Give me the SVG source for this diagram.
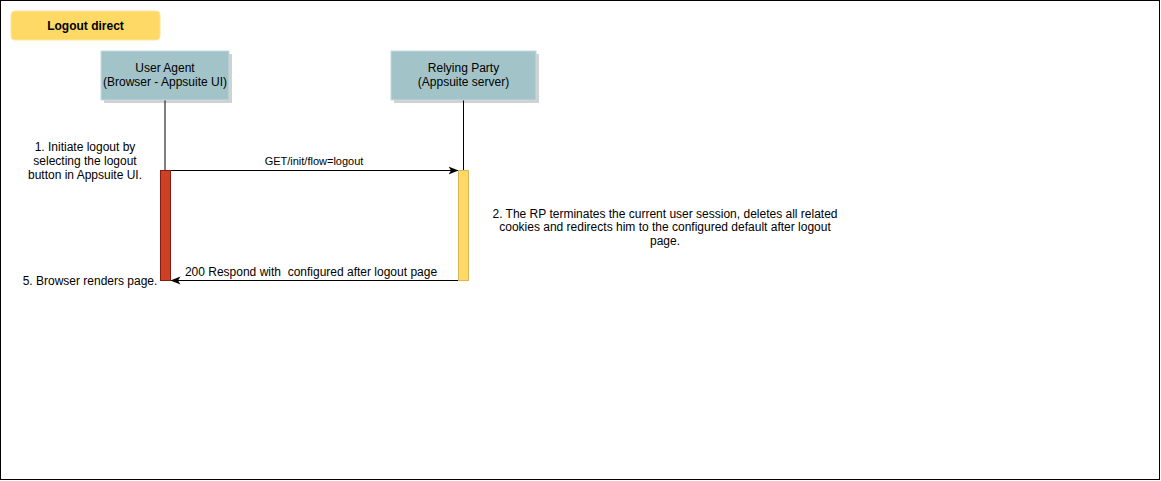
<svg xmlns="http://www.w3.org/2000/svg" width="1161" height="481" viewBox="0 0 1161 481">
<style>
  text { font-family: "Liberation Sans", Arial, Helvetica, sans-serif; font-size: 12px; fill: #000; }
  .title { font-weight: bold; }
  .lbl { font-size: 11px; }
  .actor { fill: #A2C4C9; stroke: #C5DADD; stroke-width: 1; }
  .shadow { fill: #000; opacity: 0.18; }
  .line { stroke: #000; stroke-width: 1; fill: none; }
  .pre { white-space: pre; }
</style>
<defs>
  <marker id="arr" viewBox="0 0 10 10" refX="9.5" refY="5" markerWidth="10" markerHeight="10" markerUnits="userSpaceOnUse" orient="auto">
    <path d="M0,1 L10,5 L0,9 L2.5,5 Z" fill="#000"/>
  </marker>
</defs>
<rect x="0.5" y="0.5" width="1159" height="479" fill="#fff" stroke="#000" stroke-width="1"/>

<g id="title">
  <rect x="11" y="11" width="149" height="29" rx="4" fill="#FFD966" stroke="#FFE599" stroke-width="1"/>
  <text class="title" x="85.5" y="29.5" text-anchor="middle">Logout direct</text>
</g>

<g id="connectors">
  <line class="line" x1="165" y1="100" x2="165" y2="170"/>
  <line class="line" x1="463.5" y1="100" x2="463.5" y2="170"/>
  <line class="line" x1="170" y1="170.5" x2="458" y2="170.5" marker-end="url(#arr)"/>
  <text class="lbl" x="314" y="164.5" text-anchor="middle">GET/init/flow=logout</text>
  <line class="line" x1="463" y1="280.5" x2="171" y2="280.5" marker-end="url(#arr)"/>
  <text class="pre" xml:space="preserve" x="311" y="276" text-anchor="middle">200 Respond with  configured after logout page</text>
</g>

<g id="user-agent">
  <rect class="shadow" x="104" y="54" width="128" height="49"/>
  <rect class="actor" x="101" y="51" width="128" height="49"/>
  <text x="165" y="72" text-anchor="middle">User Agent</text>
  <text x="165" y="86" text-anchor="middle">(Browser - Appsuite UI)</text>
</g>

<g id="relying-party">
  <rect class="shadow" x="394" y="54" width="145" height="49"/>
  <rect class="actor" x="391" y="51" width="145" height="49"/>
  <text x="463.5" y="72" text-anchor="middle">Relying Party</text>
  <text x="463.5" y="86" text-anchor="middle">(Appsuite server)</text>
</g>

<g id="ua-activation">
  <rect x="160.5" y="170.5" width="10" height="110" fill="#CC4125" stroke="#8C1B0F" stroke-width="1"/>
</g>

<g id="rp-activation">
  <rect x="458.5" y="170.5" width="10" height="110" fill="#FFD966" stroke="#D6B656" stroke-width="1"/>
</g>

<g id="note-1">
  <text x="85" y="151" text-anchor="middle">1. Initiate logout by</text>
  <text x="85" y="165" text-anchor="middle">selecting the logout</text>
  <text x="85" y="179" text-anchor="middle">button in Appsuite UI.</text>
</g>

<g id="note-2">
  <text x="665" y="217.5" text-anchor="middle">2. The RP terminates the current user session, deletes all related</text>
  <text x="665" y="231" text-anchor="middle">cookies and redirects him to the configured default after logout</text>
  <text x="665" y="244.5" text-anchor="middle">page.</text>
</g>

<g id="note-5">
  <text x="90" y="285" text-anchor="middle">5. Browser renders page.</text>
</g>
</svg>
